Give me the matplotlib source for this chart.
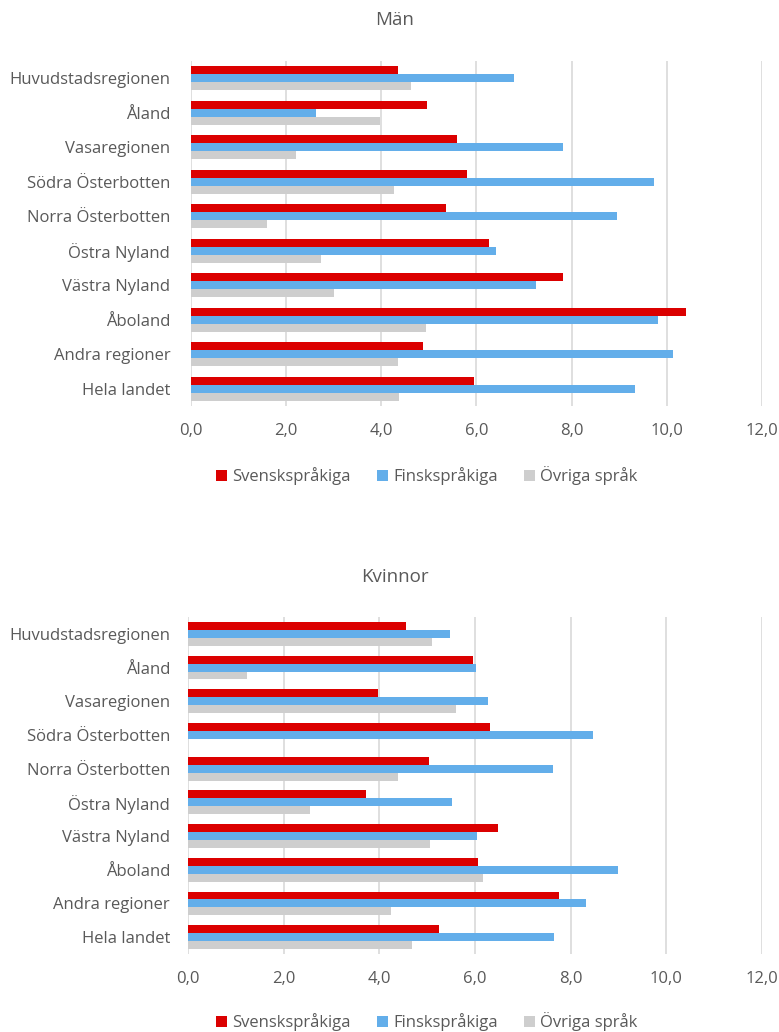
import matplotlib
matplotlib.use("Agg")
import matplotlib.pyplot as plt
import numpy as np
from matplotlib.patches import Patch

regions = ["Huvudstadsregionen", "Åland", "Vasaregionen", "Södra Österbotten",
           "Norra Österbotten", "Östra Nyland", "Västra Nyland", "Åboland",
           "Andra regioner", "Hela landet"]

# Män
man_sv = [4.35, 4.97, 5.60, 5.81, 5.36, 6.27, 7.82, 10.41, 4.88, 5.95]
man_fi = [6.79, 2.62, 7.82, 9.72, 8.96, 6.41, 7.25, 9.81, 10.12, 9.34]
man_ov = [4.63, 3.98, 2.21, 4.27, 1.59, 2.73, 3.01, 4.94, 4.35, 4.38]

# Kvinnor
kv_sv = [4.55, 5.96, 3.97, 6.32, 5.04, 3.72, 6.48, 6.07, 7.75, 5.24]
kv_fi = [5.47, 6.03, 6.28, 8.46, 7.64, 5.51, 6.04, 8.98, 8.33, 7.66]
kv_ov = [5.11, 1.23, 5.60, 0.0, 4.40, 2.55, 5.06, 6.17, 4.25, 4.68]

series_names = ["Svenskspråkiga", "Finskspråkiga", "Övriga språk"]
colors = ["#db0000", "#63aeea", "#cecece"]
xticks = [0, 2, 4, 6, 8, 10, 12]

plt.rcParams["font.family"] = ["Open Sans", "DejaVu Sans"]
TXT = "#595959"

W, H = 779, 1032
fig = plt.figure(figsize=(W / 100, H / 100), dpi=100)
fig.patch.set_facecolor("white")


def panel(rect_px, title, title_y, legend_y, ypad, data):
    x0, x1, y0, y1 = rect_px
    ax = fig.add_axes([x0 / W, 1 - y1 / H, (x1 - x0) / W, (y1 - y0) / H])
    y = np.arange(len(regions))
    h = 0.235
    for i, (vals, c) in enumerate(zip(data, colors)):
        ax.barh(y + (i - 1) * h, vals, height=h, color=c, zorder=3,
                label=series_names[i])
    ax.set_xlim(0, 12)
    ax.set_ylim(len(regions) - 0.5, -0.5)
    ax.set_xticks(xticks)
    ax.set_xticklabels([f"{t:.1f}".replace(".", ",") for t in xticks])
    ax.set_yticks(y)
    ax.set_yticklabels(regions)
    ax.tick_params(length=0, labelsize=12, colors=TXT)
    ax.tick_params(axis="x", pad=12)
    ax.tick_params(axis="y", pad=ypad)
    for s in ax.spines.values():
        s.set_visible(False)
    ax.xaxis.grid(True, color="#d9d9d9", linewidth=1.2, zorder=0)
    ax.set_axisbelow(True)
    fig.text(395 / W, 1 - title_y / H, title, ha="center", va="center",
             fontsize=13.5, color=TXT)
    handles = [Patch(facecolor=c, edgecolor="none") for c in colors]
    fig.legend(handles, series_names, loc="center",
               bbox_to_anchor=(427 / W, 1 - legend_y / H), ncol=3,
               frameon=False, fontsize=12, handlelength=0.65,
               handleheight=0.65, handletextpad=0.3, columnspacing=1.6,
               labelcolor=TXT)
    return ax


panel((191, 762, 61, 406), "Män", 20, 476, 15, [man_sv, man_fi, man_ov])
panel((188, 762, 617, 954), "Kvinnor", 577, 1022, 13, [kv_sv, kv_fi, kv_ov])

fig.savefig("out.png", dpi=100, facecolor="white")
